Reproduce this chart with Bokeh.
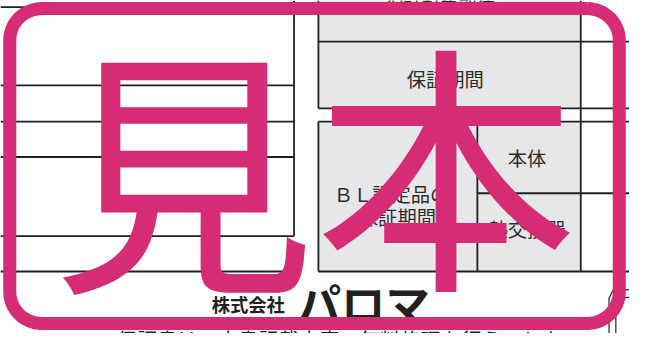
import numpy as np
from bokeh.plotting import figure
from bokeh.models import Range1d
from bokeh.core.properties import value
from bokeh.embed import file_html
from bokeh.resources import INLINE

W, H = 645, 349
PW, PH = 629, 333
FS = (PW / W + PH / H) / 2

INK = "#231f20"
PINK = "#d62b75"
GRAY = "#e6e7e9"
JP = value("Noto Sans CJK JP")

# table grid (document coordinates, y downwards)
h_y = [7, 89, 127, 164, 247, 284, 43, 113, 127, 284, 202]
h_x0 = [0, 0, 0, 0, 0, 0, 326, 326, 326, 326, 489]
h_x1 = [301, 301, 301, 301, 301, 301, 645, 645, 645, 645, 645]
v_x = [301, 326, 595, 326, 489]
v_y0 = [0, 0, 0, 127, 127]
v_y1 = [247, 113, 284, 284, 284]

box_l = [326, 326]
box_r = [595, 595]
box_t = [0, 127]
box_b = [113, 284]

cell_text = ["保証対象部位", "保証期間", "本体", "ＢＬ認定品の", "保証期間", "熱交換器"]
cell_x = [451, 456, 540, 401, 407, 540]
cell_y = [5, 82, 165, 203, 227, 240]
cell_size = [19, 20, 20, 20, 20, 20]

stamp_text = ["見", "本"]
stamp_x = [188, 457]
stamp_y = [167, 164]
stamp_size = [272, 272]

stamp_box = dict(left=9.5, right=634.5, top=8.5, bottom=338.5, radius=33, width=13.5)

company = ["株式会社", "パロマ"]
company_x = [254, 372]
company_y = [318, 316]
company_size = [19, 46]

footer = "この保証書は、本書記載内容で無料修理を行うことを"
footer_x, footer_y, footer_size = 327, 355, 21

# small line drawing at the bottom-right corner
icon_xs = [[624, 624, 628, 645], [631, 631, 636, 645]]
icon_ys = [[349, 312, 304, 303], [349, 320, 312, 311]]

p = figure(width=PW, height=PH, x_range=Range1d(0, W), y_range=Range1d(H, 0),
           output_backend="svg", toolbar_location=None, min_border=0)
p.axis.visible = False
p.grid.visible = False
p.outline_line_color = None
p.background_fill_color = "white"
p.border_fill_color = "white"

p.quad(left=box_l, right=box_r, top=box_t, bottom=box_b, fill_color=GRAY, line_color=None)
p.segment(x0=h_x0, y0=h_y, x1=h_x1, y1=h_y, line_color=INK, line_width=1.8)
p.segment(x0=v_x, y0=v_y0, x1=v_x, y1=v_y1, line_color=INK, line_width=1.8)
p.multi_line(xs=icon_xs, ys=icon_ys, line_color=INK, line_width=1.2)

p.text(x=cell_x, y=cell_y, text=cell_text, text_font=JP,
       text_font_size=[f"{s*FS:.1f}px" for s in cell_size],
       text_color="#2b2b2b", text_align="center", text_baseline="middle")

p.text(x=[footer_x], y=[footer_y], text=[footer], text_font=JP,
       text_font_size=f"{footer_size*FS:.1f}px", text_color=INK,
       text_align="center", text_baseline="middle")

p.text(x=company_x, y=company_y, text=company, text_font=JP,
       text_font_size=[f"{s*FS:.1f}px" for s in company_size],
       text_font_style="bold", text_color=INK, text_align="center", text_baseline="middle")

# big stamp characters
p.text(x=stamp_x, y=stamp_y, text=stamp_text, text_font=JP,
       text_font_size=[f"{s*FS:.1f}px" for s in stamp_size], text_color=PINK,
       text_align="center", text_baseline="middle")

# rounded stamp frame
b = stamp_box
r = b["radius"]
t = np.linspace(0, np.pi / 2, 20)
xs, ys = [], []
corners = [(b["right"] - r, b["top"] + r, -np.pi / 2), (b["right"] - r, b["bottom"] - r, 0),
           (b["left"] + r, b["bottom"] - r, np.pi / 2), (b["left"] + r, b["top"] + r, np.pi)]
for cx, cy, a0 in corners:
    xs.extend(cx + r * np.cos(a0 + t))
    ys.extend(cy + r * np.sin(a0 + t))
xs.append(xs[0]); ys.append(ys[0])
p.line(xs, ys, line_color=PINK, line_width=b["width"] * FS, line_join="round")

open("out.html", "w").write(file_html(p, INLINE))
